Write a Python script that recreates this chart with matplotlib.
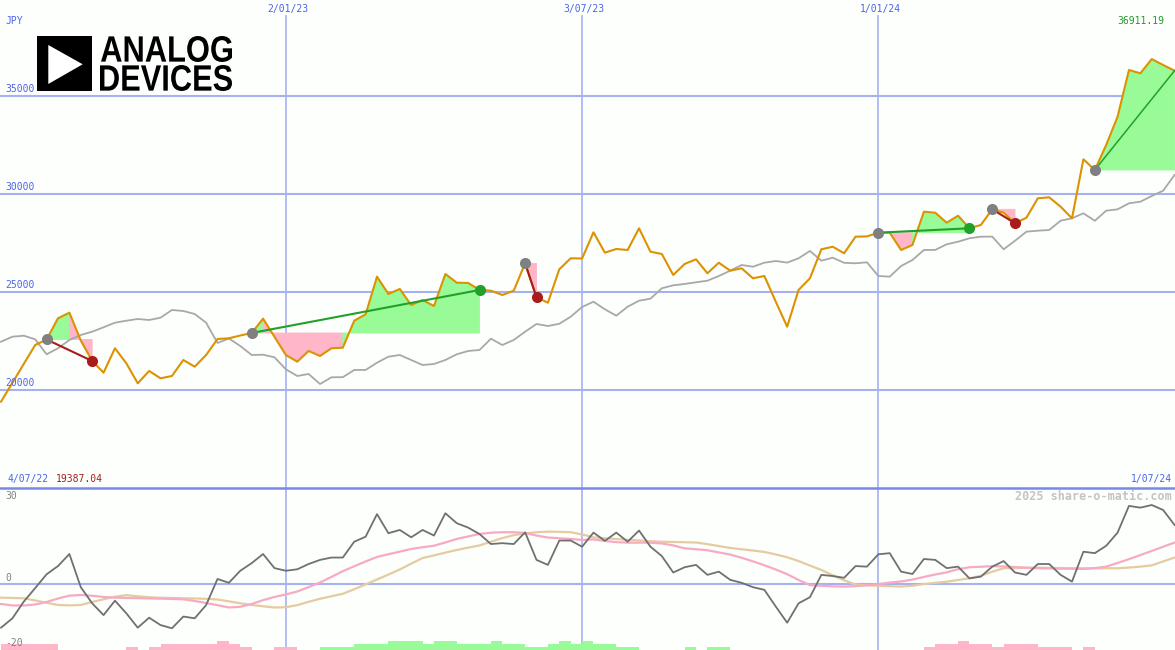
import numpy as np
import matplotlib
matplotlib.use('Agg')
import matplotlib.pyplot as plt
from matplotlib.patches import Rectangle, Polygon, PathPatch
from matplotlib.textpath import TextPath
from matplotlib.font_manager import FontProperties
from matplotlib.transforms import Affine2D

# weekly closes (JPY), 4/07/22 .. 1/07/24
price = [19387.04, 20353, 21320, 22286, 22568, 23652, 23939, 22517, 21468, 20870,
         22118, 21350, 20327, 20957, 20583, 20701, 21519, 21176, 21775, 22593,
         22629, 22772, 22900, 23632, 22706, 21775, 21432, 21980, 21724, 22118,
         22148, 23529, 23857, 25780, 24895, 25151, 24332, 24588, 24281, 25918,
         25473, 25460, 25100, 25064, 24844, 25064, 26465, 24726, 24450, 26158,
         26721, 26711, 28051, 27008, 27197, 27146, 28256, 27059, 26941, 25867,
         26430, 26670, 25954, 26496, 26087, 26210, 25698, 25816, 24501, 23222,
         25100, 25698, 27181, 27314, 26977, 27826, 27840, 28031, 28030, 27146,
         27401, 29105, 29054, 28542, 28900, 28256, 28424, 29227, 29054, 28511,
         28798, 29790, 29841, 29360, 28767, 31785, 31238, 32516, 33964, 36353,
         36184, 36911.19, 36608, 36317]

# comparison index (grey line)
bench = [22455, 22711, 22762, 22578, 21811, 22118, 22542, 22798, 22967, 23192,
         23427, 23529, 23616, 23565, 23683, 24077, 24026, 23872, 23427, 22389,
         22619, 22235, 21775, 21790, 21657, 21043, 20701, 20803, 20292, 20634,
         20640, 21008, 21010, 21381, 21688, 21775, 21519, 21263, 21315, 21519,
         21811, 21980, 22031, 22609, 22286, 22542, 22967, 23361, 23258, 23370,
         23734, 24230, 24501, 24112, 23785, 24245, 24552, 24655, 25187, 25340,
         25407, 25494, 25575, 25816, 26087, 26378, 26291, 26496, 26583, 26500,
         26721, 27095, 26598, 26752, 26490, 26465, 26517, 25816, 25780, 26327,
         26634, 27146, 27150, 27437, 27570, 27744, 27826, 27830, 27181, 27621,
         28082, 28133, 28169, 28644, 28767, 29023, 28640, 29156, 29227, 29534,
         29616, 29908, 30179, 30982]

# oscillator panel
mom = [-14.9, -11.7, -6.0, -1.4, 3.3, 6.1, 10.2, -1.1, -6.6, -10.6,
       -5.7, -10.0, -14.9, -11.5, -14.0, -15.1, -11.1, -11.7, -7.2, 1.7,
       0.4, 4.5, 7.1, 10.2, 5.4, 4.5, 5.0, 6.8, 8.2, 9.0,
       9.0, 14.4, 16.1, 23.8, 17.3, 18.4, 15.9, 18.4, 16.5, 24.1,
       20.7, 19.2, 17.0, 13.6, 13.9, 13.6, 17.6, 8.2, 6.5, 14.8,
       14.8, 12.7, 17.5, 14.7, 17.5, 14.4, 18.2, 12.7, 9.5, 3.9,
       5.7, 6.5, 3.1, 4.2, 1.4, 0.4, -1.1, -2.0, -7.7, -13.2,
       -6.6, -4.5, 3.1, 2.7, 2.1, 6.1, 5.9, 10.1, 10.5, 4.2,
       3.4, 8.5, 8.2, 5.4, 5.9, 1.9, 2.5, 5.9, 7.8, 3.9,
       3.1, 6.8, 6.8, 3.1, 0.8, 11.0, 10.5, 13.0, 17.5, 26.6,
       26.0, 26.9, 25.2, 20.1]

fast = [-6.82, -7.33, -7.33, -6.99, -6.14, -4.94, -4.0, -3.75, -4.02, -4.43,
        -4.67, -4.77, -4.84, -4.91, -5.01, -5.11, -5.22, -5.80, -6.48, -7.23,
        -8.01, -7.77, -6.82, -5.52, -4.43, -3.58, -2.56, -1.09, 0.51, 2.39,
        4.36, 6.03, 7.67, 9.20, 10.13, 11.01, 11.93, 12.51, 13.02, 14.15,
        15.34, 16.19, 17.05, 17.46, 17.63, 17.63, 17.39, 16.5, 15.82, 15.58,
        15.34, 15.0, 15.17, 14.66, 14.25, 14.08, 14.08, 14.05, 13.81, 13.13,
        12.14, 11.83, 11.49, 10.74, 10.02, 8.93, 7.7, 6.37, 4.91, 3.34,
        1.36, -0.41, -0.61, -0.82, -0.89, -0.75, -0.44, -0.07, 0.48, 0.85,
        1.5, 2.39, 3.24, 3.95, 5.05, 5.69, 5.86, 6.07, 5.97, 5.76,
        5.52, 5.35, 5.29, 5.22, 5.18, 5.11, 5.39, 5.9, 7.16, 8.45,
        9.85, 11.25, 12.68, 14.11]

slow = [-4.67, -4.77, -4.88, -5.63, -6.41, -7.16, -7.30, -7.16, -6.14, -5.22,
        -4.33, -3.82, -4.19, -4.53, -4.71, -4.77, -4.88, -4.94, -5.05, -5.29,
        -5.93, -6.58, -7.16, -7.6, -8.01, -7.91, -7.23, -6.07, -5.05, -4.19,
        -3.34, -1.81, -0.14, 1.53, 3.2, 4.94, 6.92, 8.83, 9.75, 10.67,
        11.59, 12.38, 13.13, 14.39, 15.62, 16.64, 17.22, 17.63, 17.83, 17.76,
        17.63, 16.88, 15.89, 15.58, 15.31, 15.04, 14.83, 14.56, 14.39, 14.32,
        14.22, 14.12, 13.57, 12.92, 12.27, 11.83, 11.39, 10.91, 10.06, 9.1,
        7.81, 6.27, 4.77, 2.97, 1.26, -0.17, -0.48, -0.61, -0.75, -0.89,
        -0.61, -0.03, 0.37, 0.78, 1.36, 1.94, 2.8, 4.16, 5.35, 5.42,
        5.52, 5.56, 5.49, 5.42, 5.35, 5.35, 5.35, 5.35, 5.35, 5.59,
        5.9, 6.34, 7.67, 9.0]

# little strength bars along the bottom (+ green, - pink)
bars = [-2, -2, -2, -2, -2, 0, 0, 0, 0, 0,
        0, -1, 0, -1, -2, -2, -2, -2, -2, -3,
        -2, -1, 0, 0, -1, -1, 0, 0, 1, 1,
        1, 2, 2, 2, 3, 3, 3, 2, 3, 3,
        2, 2, 2, 3, 2, 2, 1, 1, 2, 3,
        2, 3, 2, 2, 1, 1, 0, 0, 0, 0,
        1, 0, 1, 1, 0, 0, 0, 0, 0, 0,
        0, 0, 0, 0, 0, 0, 0, 0, 0, 0,
        0, -1, -2, -2, -3, -2, -2, -1, -2, -2,
        -2, -1, -1, -1, 0, -1, 0, 0, 0, 0,
        0, 0, 0, 0]

# (entry week, exit week); None = still open
trades = [(4, 8), (22, 42), (46, 47), (77, 85), (87, 89), (96, None)]

date_ticks = [25, 51, 77]
date_labels = ['2/01/23', '3/07/23', '1/01/24']
first_date, last_date = '4/07/22', '1/07/24'
price_ticks = [20000, 25000, 30000, 35000]
osc_ticks = [30, 0, -20]

# colours
bg = '#fdfffd'
grid_c = '#a6b2f0'
blue = '#4c64e8'
orange = '#dd9200'
up_fill = '#98fb98'
down_fill = '#ffb6c8'
win_c = '#22a02a'
loss_c = '#a81c1c'
mono = 'DejaVu Sans Mono'

W, H = 1175, 650
fig = plt.figure(figsize=(W / 100, H / 100), dpi=100)
fig.patch.set_facecolor(bg)

split = 487.7 / H
ax = fig.add_axes([0, 1 - split, 1, split])
ax2 = fig.add_axes([0, 0, 1, 1 - split])
x = np.arange(len(price))

for a in (ax, ax2):
    a.set_facecolor(bg)
    a.set_xticks([])
    a.set_yticks([])
    for s in a.spines.values():
        s.set_visible(False)
    a.set_xlim(-0.09, 103.04)

ax.set_ylim(14987, 39933)
ax2.set_ylim(-22.5, 32.8)

# grid
for v in price_ticks:
    ax.axhline(v, color=grid_c, lw=1.5, zorder=0)
for d in date_ticks:
    ax.axvline(d, ymax=1 - 16 / 487.7, color=grid_c, lw=1.2, zorder=0)
    ax2.axvline(d, color=grid_c, lw=1.2, zorder=0)
ax2.axhline(0, color=grid_c, lw=1.5, zorder=0)
ax2.spines['top'].set_visible(True)
ax2.spines['top'].set_color('#7888e8')
ax2.spines['top'].set_linewidth(1.8)

# trade shading, one slice per week, coloured by where the week ends
for start, end in trades:
    stop = end if end is not None else len(price) - 1
    level = price[start]
    for k in range(start, stop):
        c = up_fill if price[k + 1] >= level else down_fill
        ax.fill([k, k, k + 1, k + 1], [level, price[k], price[k + 1], level],
                facecolor=c, edgecolor=c, lw=0.6, zorder=1)

ax.plot(x, bench, color='#a8a8a8', lw=1.3, zorder=2)
ax.plot(x, price, color=orange, lw=1.5, zorder=3)

for start, end in trades:
    stop = end if end is not None else len(price) - 1
    c = win_c if price[stop] > price[start] else loss_c
    ax.plot([start, stop], [price[start], price[stop]], color=c,
            lw=1.5 if end is not None else 1.1, zorder=4)
    ax.plot(start, price[start], 'o', ms=8, color='#808080', mec='none', zorder=5)
    if end is not None:
        ax.plot(end, price[end], 'o', ms=8, color=c, mec='none', zorder=5)

# oscillator
ax2.bar(x, [abs(b) * 1.0 for b in bars], bottom=-22.5, width=1.0, align='edge',
        color=[up_fill if b > 0 else down_fill for b in bars], lw=0, zorder=1)
ax2.plot(x, slow, color='#e4cca0', lw=1.6, zorder=2)
ax2.plot(x, fast, color='#f8aac4', lw=1.6, zorder=2)
ax2.plot(x, mom, color='#707070', lw=1.3, zorder=3)

# labels
txt = dict(family=mono, fontsize=7)
for v in price_ticks:
    ax.annotate(str(v), xy=(0, v), xycoords=('axes fraction', 'data'),
                xytext=(5, 2), textcoords='offset pixels', va='bottom', ha='left',
                color=blue, **txt)
for d, lab in zip(date_ticks, date_labels):
    ax.annotate(lab, xy=(d, 1), xycoords=('data', 'axes fraction'),
                xytext=(2, -9), textcoords='offset pixels', ha='center', va='center',
                color=blue, **txt)
ax.annotate('JPY', xy=(0, 1), xycoords='axes fraction', xytext=(5, -21),
            textcoords='offset pixels', ha='left', va='center', color=blue, **txt)
ax.annotate(f'{max(price):.2f}', xy=(1, 1), xycoords='axes fraction', xytext=(-11, -21),
            textcoords='offset pixels', ha='right', va='center', color='#229a2a', **txt)
ax.annotate(first_date, xy=(0, 0), xycoords='axes fraction', xytext=(7, 8.7),
            textcoords='offset pixels', ha='left', va='center', color=blue, **txt)
ax.annotate(f'{min(price):.2f}', xy=(0, 0), xycoords='axes fraction', xytext=(56, 8.7),
            textcoords='offset pixels', ha='left', va='center', color=loss_c, **txt)
ax.annotate(last_date, xy=(1, 0), xycoords='axes fraction', xytext=(-3, 8.7),
            textcoords='offset pixels', ha='right', va='center', color=blue, **txt)

osc_offsets = {30: 0, 0: 6, -20: 0}
for v in osc_ticks:
    ax2.annotate(str(v), xy=(0, v), xycoords=('axes fraction', 'data'),
                 xytext=(5, osc_offsets[v]), textcoords='offset pixels',
                 ha='left', va='center', color='#808080', **txt)
ax2.annotate('2025 share-o-matic.com', xy=(1, 1), xycoords='axes fraction',
             xytext=(-3, -8.5), textcoords='offset pixels', ha='right', va='center',
             color='#c4c4c4', family=mono, fontsize=8.5, fontweight='bold')

# logo overlay, in pixel units
lg = fig.add_axes([0, 0, 1, 1])
lg.set_xlim(0, W)
lg.set_ylim(H, 0)
lg.axis('off')
lg.add_patch(Rectangle((37, 36), 55, 55, color='black', lw=0))
lg.add_patch(Polygon([(48.3, 45), (48.3, 84), (82.7, 64.3)], closed=True, color='white', lw=0))

logo_font = FontProperties(family='Liberation Sans', weight='bold')


def logo_word(word, x0, x1, y0, y1):
    tp = TextPath((0, 0), word, size=100, prop=logo_font)
    bb = tp.get_extents()
    tr = (Affine2D().translate(-bb.x0, -bb.y0)
          .scale((x1 - x0) / bb.width, -(y1 - y0) / bb.height)
          .translate(x0, y1))
    lg.add_patch(PathPatch(tr.transform_path(tp), color='black', lw=0))


logo_word('ANALOG', 101, 232, 36, 62)
logo_word('DEVICES', 100, 232, 65, 91)

fig.savefig('out.png', dpi=100, facecolor=bg)
